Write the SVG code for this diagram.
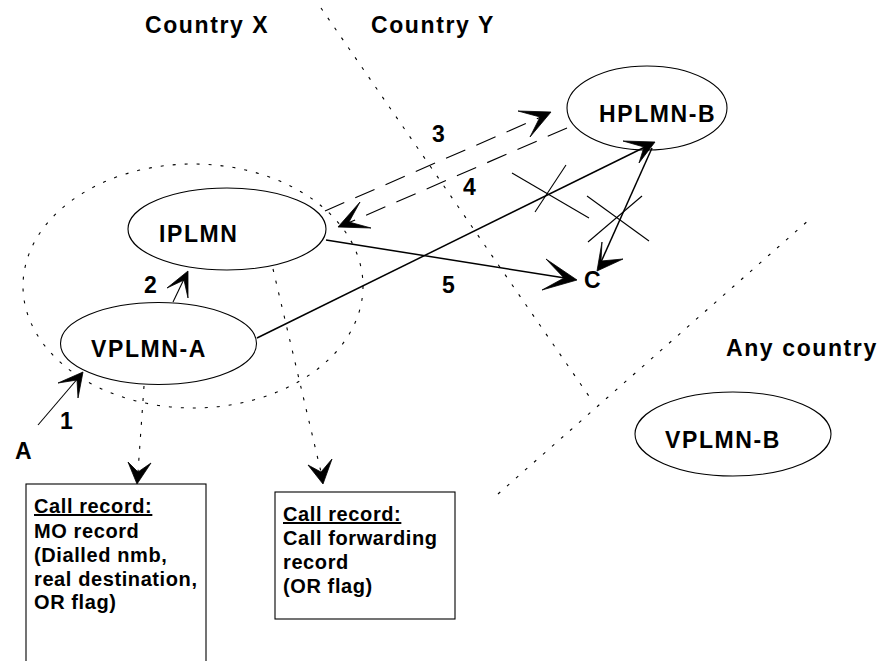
<svg xmlns="http://www.w3.org/2000/svg" width="882" height="661" viewBox="0 0 882 661">
<style>
.bg{fill:#fff}
.node{fill:#fff;stroke:#000;stroke-width:1.1}
.lbl{font-family:"Liberation Sans",Arial,sans-serif;font-weight:bold;font-size:23px;letter-spacing:1.6px;fill:#000}
.box{fill:#fff;stroke:#000;stroke-width:1.1}
.btxt{font-family:"Liberation Sans",Arial,sans-serif;font-weight:bold;font-size:20px;letter-spacing:0.6px;fill:#000}
.ul{text-decoration:underline}
.dot{fill:none;stroke:#000;stroke-width:1.1;stroke-dasharray:3 9}
.dash{fill:none;stroke:#000;stroke-width:1.1;stroke-dasharray:21 12}
.solid{fill:none;stroke:#000;stroke-width:1.5}
.thin{fill:none;stroke:#000;stroke-width:1.1}
.head{fill:#000;stroke:#000;stroke-width:0.8;stroke-linejoin:miter}
</style>
<rect class="bg" x="0" y="0" width="882" height="661"/>

<g id="boundaries">
<ellipse class="dot" cx="193" cy="286" rx="170" ry="122"/>
<line class="dot" x1="321" y1="8" x2="593" y2="402"/>
<line class="dot" x1="498" y1="494" x2="810" y2="219"/>
</g>

<g id="region-labels">
<text class="lbl" x="145" y="33">Country X</text>
<text class="lbl" x="371" y="33">Country Y</text>
<text class="lbl" x="726" y="356">Any country</text>
</g>

<g id="node-hplmn-b">
<ellipse class="node" cx="647" cy="108" rx="80" ry="42"/>
<text class="lbl" x="599" y="122">HPLMN-B</text>
</g>
<g id="node-iplmn">
<ellipse class="node" cx="227" cy="229" rx="99" ry="41"/>
<text class="lbl" x="159" y="242">IPLMN</text>
</g>
<g id="node-vplmn-a">
<ellipse class="node" cx="158.5" cy="343.5" rx="98" ry="41"/>
<text class="lbl" x="91" y="357">VPLMN-A</text>
</g>
<g id="node-vplmn-b">
<ellipse class="node" cx="733" cy="434" rx="98" ry="42"/>
<text class="lbl" x="665" y="448">VPLMN-B</text>
</g>
<g id="node-a">
<text class="lbl" x="15" y="459">A</text>
</g>
<g id="node-c">
<text class="lbl" x="584" y="288">C</text>
</g>

<g id="node-record-1">
<rect class="box" x="26" y="484" width="180" height="200"/>
<text class="btxt ul" x="34" y="513">Call record:</text>
<text class="btxt" x="34" y="538">MO record</text>
<text class="btxt" x="34" y="562">(Dialled nmb,</text>
<text class="btxt" x="34" y="586">real destination,</text>
<text class="btxt" x="34" y="609">OR flag)</text>
</g>
<g id="node-record-2">
<rect class="box" x="275" y="492" width="180" height="127"/>
<text class="btxt ul" x="283" y="521">Call record:</text>
<text class="btxt" x="283" y="545">Call forwarding</text>
<text class="btxt" x="283" y="569">record</text>
<text class="btxt" x="283" y="593">(OR flag)</text>
</g>

<g id="connectors">
<!-- 1: A to VPLMN-A -->
<line class="thin" x1="38" y1="425" x2="79" y2="377"/>
<polygon class="head" points="83,372 58,383 77,380 78,398"/>
<!-- 2: VPLMN-A to IPLMN -->
<line class="thin" x1="173" y1="302" x2="185" y2="277"/>
<polygon class="head" points="188,271 167,288 184,280 188,298"/>
<!-- 3: IPLMN to HPLMN-B (dashed) -->
<line class="dash" x1="325" y1="211" x2="541" y2="117"/>
<polygon class="head" points="551,112 518,111 540,117 530,137"/>
<!-- 4: HPLMN-B to IPLMN (dashed) -->
<line class="dash" x1="567" y1="128" x2="348" y2="223"/>
<polygon class="head" points="338,227 360,202 349,222 371,228"/>
<!-- 5: IPLMN to C -->
<line class="solid" x1="326" y1="240" x2="565" y2="278"/>
<polygon class="head" points="577,280 546,259 564,278 542,290"/>
<!-- VPLMN-A to HPLMN-B -->
<line class="solid" x1="257" y1="338" x2="645" y2="147"/>
<polygon class="head" points="655,142 623,141 644,147 639,163"/>
<!-- HPLMN-B to C -->
<line class="solid" x1="652" y1="148" x2="601" y2="262"/>
<polygon class="head" points="597,271 602,242 601,261 623,259"/>
<!-- crosses -->
<line class="thin" x1="512" y1="173" x2="589" y2="218"/>
<line class="thin" x1="566" y1="165" x2="535" y2="212"/>
<line class="thin" x1="587" y1="196" x2="649" y2="241"/>
<line class="thin" x1="642" y1="196" x2="588" y2="242"/>
<!-- dotted record arrows -->
<line class="dot" x1="144" y1="386" x2="138" y2="472"/>
<polygon class="head" points="137,484 128,462 138,472 151,463"/>
<line class="dot" x1="273" y1="269" x2="321" y2="472"/>
<polygon class="head" points="323,484 308,465 321,472 332,459"/>
</g>

<g id="connector-labels">
<text class="lbl" x="432" y="142">3</text>
<text class="lbl" x="463" y="195">4</text>
<text class="lbl" x="442" y="293">5</text>
<text class="lbl" x="144" y="293">2</text>
<text class="lbl" x="60" y="429">1</text>
</g>
</svg>
